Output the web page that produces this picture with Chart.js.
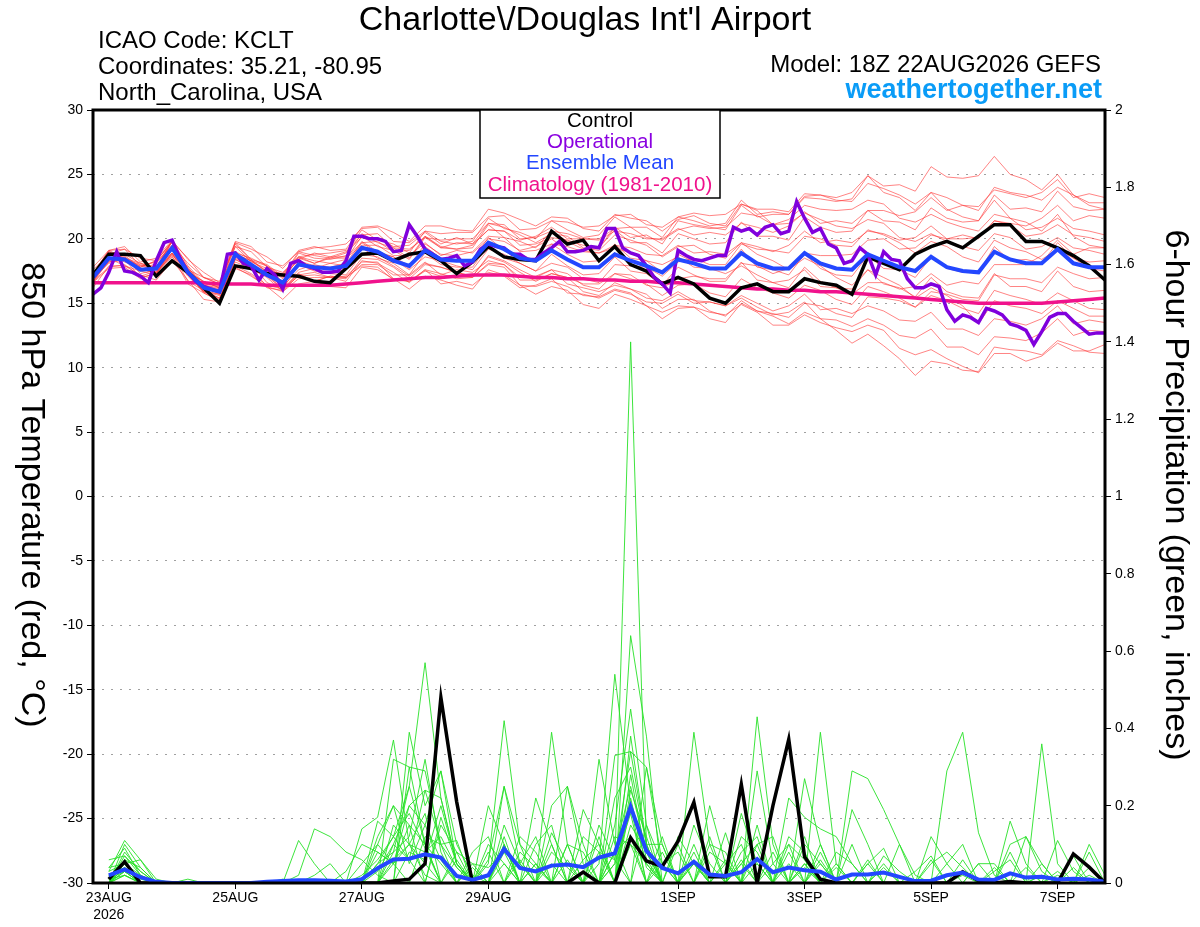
<!DOCTYPE html>
<html>
<head>
<meta charset="utf-8">
<title>KCLT GEFS plume</title>
<script src="https://cdn.jsdelivr.net/npm/chart.js@4.4.0/dist/chart.umd.min.js"></script>
<style>
  html, body { margin: 0; padding: 0; background: #fff; }
  #wrap { width: 1200px; height: 927px; }
</style>
</head>
<body>
<div id="wrap"><canvas id="plume" width="1200" height="927"></canvas></div>
<script>
// x axis: hours after 18Z 22AUG2026, date labels at 00Z
const dateTickHours = [6, 54, 102, 150, 222, 270, 318, 366];
const dateTickLabels = [["23AUG", "2026"], "25AUG", "27AUG", "29AUG", "1SEP", "3SEP", "5SEP", "7SEP"];

// 850 hPa temperature, 6-hourly from hour 0
const controlTemp = [17.2,18.8,18.8,18.7,17.1,18.3,17.4,16.2,
  15.0,17.9,17.7,17.3,17.2,17.1,16.7,16.6,
  17.7,18.8,18.9,18.3,18.8,19.0,18.3,17.3,
  18.2,19.4,18.6,18.4,18.3,20.6,19.6,19.9,
  18.3,19.4,18.0,17.5,16.5,17.0,16.5,15.4,
  15.0,16.2,16.5,15.9,15.9,16.9,16.6,16.4,
  15.7,18.6,18.1,17.6,18.8,19.4,19.8,19.3,
  20.2,21.1,21.1,19.8,19.8,19.3,18.7,17.9,
  16.8];
const meanTemp = [17.0,18.5,18.4,17.6,17.7,19.3,17.4,16.2,
  15.9,18.8,18.0,17.2,16.6,18.0,17.8,17.7,
  17.9,19.3,19.0,18.3,17.9,19.1,18.4,18.3,
  18.3,19.7,19.2,18.5,18.3,19.1,18.4,17.8,
  17.8,18.8,18.3,17.9,17.4,18.4,18.1,17.7,
  17.7,18.9,18.1,17.7,17.7,18.9,18.1,17.7,
  17.6,18.8,18.3,17.8,17.5,18.6,17.8,17.5,
  17.4,19.0,18.4,18.1,18.1,19.2,18.1,17.8,
  17.8];
const climoTemp = [16.6,16.6,16.6,16.6,16.6,16.6,16.6,16.6,
  16.5,16.5,16.5,16.4,16.4,16.4,16.4,16.4,
  16.5,16.6,16.7,16.8,16.9,17.0,17.0,17.1,
  17.2,17.2,17.2,17.1,17.0,17.0,16.9,16.9,
  16.8,16.8,16.7,16.7,16.6,16.6,16.5,16.4,
  16.3,16.2,16.1,16.1,16.0,16.0,15.9,15.9,
  15.8,15.7,15.6,15.5,15.4,15.3,15.2,15.1,
  15.0,15.0,15.0,15.0,15.0,15.1,15.2,15.3,
  15.4];
// operational run is 3-hourly
const operationalTemp = [15.7,16.2,17.4,19.0,17.5,17.4,17.1,16.6,18.3,19.7,
  19.9,18.5,17.4,16.7,16.3,16.1,15.9,18.8,18.9,18.1,
  17.9,16.8,17.7,17.2,16.1,18.1,18.3,17.9,17.7,17.4,
  17.4,17.5,18.3,20.2,20.2,20.0,20.0,19.8,19.0,19.1,
  21.1,20.2,19.2,18.8,18.4,18.5,18.7,17.9,18.2,19.2,
  19.6,19.4,19.3,18.8,18.8,18.4,18.4,18.9,19.3,19.8,
  19.0,19.0,19.1,19.4,19.3,20.8,20.8,19.3,18.9,18.7,
  17.9,17.0,16.5,15.8,19.1,18.7,18.4,18.3,18.5,18.7,
  18.7,20.9,20.6,20.8,20.3,20.9,21.1,20.4,20.6,22.9,
  21.6,20.5,20.8,19.6,19.3,18.1,18.3,19.3,18.8,17.2,
  19.0,18.4,18.3,16.9,16.2,16.2,16.5,16.3,14.5,13.6,
  14.1,13.9,13.5,14.6,14.4,14.1,13.4,13.2,12.9,11.8,
  12.8,13.9,14.2,14.2,13.6,13.1,12.6,12.7,12.7];
// ensemble members, 6-hourly
const memberTemps = [
  [17.3,19.1,18.5,18.1,17.8,19.9,17.9,16.6,16.4,19.7,18.4,18.0,17.1,19.0,18.7,18.5,18.9,20.7,19.9,19.6,18.9,20.6,19.8,19.6,19.8,21.6,20.8,20.5,20.0,21.4,20.7,20.1,20.3,21.7,20.9,20.9,20.1,21.7,21.4,21.0,21.2,23.0,21.9,22.1,21.9,23.2,23.1,22.9,23.1,24.9,24.1,24.2,23.7,25.6,24.8,24.7,24.9,26.4,25.0,24.6,23.8,25.0,23.4,22.6,22.3],
  [16.9,18.1,18.4,17.0,17.3,18.6,17.1,15.9,15.6,18.2,17.7,16.3,15.9,16.9,17.0,17.0,17.1,18.2,18.2,16.9,16.7,17.5,17.1,17.1,17.0,18.0,17.8,16.4,16.3,16.7,16.3,15.6,15.5,16.1,15.8,14.8,14.3,14.8,14.7,14.3,14.1,14.9,14.3,13.3,13.3,14.1,13.5,13.1,12.8,13.3,12.9,11.5,11.0,11.4,10.7,10.1,9.6,11.1,11.1,10.5,10.9,11.9,11.3,11.3,11.8],
  [17.3,19.1,19.2,18.5,18.3,19.8,18.5,17.0,16.5,19.7,19.2,18.6,17.7,19.1,19.4,19.1,19.2,20.9,21.0,20.5,19.8,21.0,21.0,20.7,20.6,22.3,22.0,21.5,21.0,21.7,21.6,20.8,20.6,21.9,21.6,21.4,20.6,21.5,21.8,21.2,21.0,22.7,22.3,22.3,22.1,23.5,23.4,23.0,22.9,24.3,23.9,23.4,22.7,23.6,23.2,22.6,22.2,24.0,23.6,23.4,23.0,24.0,23.4,22.8,22.8],
  [16.6,17.7,17.8,16.9,17.4,18.7,16.5,15.8,15.2,17.7,17.2,16.2,16.0,17.2,16.7,17.1,17.0,17.9,17.8,16.8,16.7,17.6,16.5,16.7,16.4,17.4,17.1,16.2,16.4,16.9,15.8,15.7,15.4,16.0,15.7,15.1,15.0,15.7,15.0,15.1,14.8,15.4,14.7,14.1,14.3,15.1,13.8,13.7,13.2,13.8,13.3,12.5,12.3,13.0,11.6,11.6,11.0,12.4,12.3,12.1,12.7,13.8,12.5,12.9,12.8],
  [17.2,19.0,18.4,18.0,17.7,19.8,17.7,16.4,16.2,19.4,18.2,17.7,16.7,18.6,18.3,18.1,18.4,20.2,19.4,19.1,18.4,20.1,19.3,19.2,19.3,21.1,20.1,19.8,19.3,20.6,19.8,19.2,19.3,20.7,19.7,19.7,18.9,20.4,20.0,19.6,19.7,21.3,20.2,20.2,19.9,21.7,20.9,20.5,20.6,22.2,21.4,21.3,20.7,22.4,21.6,21.3,21.4,23.4,22.3,22.4,22.1,23.7,22.5,22.2,22.3],
  [16.6,18.3,18.4,17.7,17.4,18.9,17.4,15.9,15.4,18.5,17.9,17.2,16.1,17.4,17.7,17.3,17.2,18.8,18.6,17.9,17.1,18.1,17.8,17.4,17.1,18.7,18.3,17.6,17.0,17.6,17.3,16.4,16.1,17.3,16.9,16.5,15.6,16.4,16.5,15.8,15.5,16.9,16.2,15.8,15.4,16.4,16.0,15.3,14.9,16.3,15.9,15.4,14.7,15.6,15.2,14.6,14.2,16.0,15.6,15.3,14.9,15.8,15.2,14.6,14.5],
  [17.6,18.8,19.2,17.9,18.2,19.5,18.1,17.0,16.7,19.4,19.0,17.8,17.4,18.6,18.8,18.9,19.1,20.3,20.4,19.3,19.2,20.1,19.9,20.0,20.0,21.2,21.1,20.0,20.1,20.6,20.4,20.0,20.0,20.8,20.9,20.1,19.9,20.7,21.0,20.8,20.9,22.0,21.8,21.1,21.5,22.6,22.3,22.2,22.3,23.0,22.7,21.6,21.3,21.9,21.3,20.9,20.6,21.9,21.6,20.7,20.9,21.6,20.8,20.6,20.3],
  [16.7,17.8,18.0,17.1,17.5,18.9,16.7,16.0,15.4,17.9,17.3,16.4,16.1,17.3,16.7,17.1,17.0,18.0,18.0,17.2,17.2,18.2,17.2,17.6,17.4,18.3,18.0,17.0,17.1,17.6,16.5,16.2,15.9,16.4,16.1,15.4,15.2,15.9,15.2,15.1,14.8,15.6,15.0,14.4,14.8,15.7,14.5,14.6,14.2,14.8,14.4,13.7,13.6,14.3,13.0,13.0,12.5,13.8,13.6,13.3,13.8,14.8,13.4,13.7,13.5],
  [17.1,19.0,18.4,17.9,17.7,19.8,17.7,16.5,16.3,19.6,18.3,17.9,16.9,18.9,18.5,18.4,18.7,20.4,19.7,19.3,18.5,20.2,19.4,19.2,19.5,20.7,20.6,19.5,19.6,20.1,19.9,19.5,19.3,20.9,20.1,20.3,19.6,21.4,21.1,20.9,20.7,22.6,21.7,21.9,21.9,23.3,23.4,23.2,23.6,24.9,23.6,23.2,22.2,23.6,22.3,21.7,21.4,23.0,21.6,21.3,20.6,21.9,20.2,19.5,19.3],
  [16.7,18.4,18.4,17.7,17.4,18.8,17.4,15.9,15.3,18.4,17.7,17.0,15.9,17.2,17.4,17.0,16.9,18.5,18.4,17.8,16.9,18.0,17.8,17.4,17.1,18.6,18.2,17.4,16.7,17.3,17.0,15.9,15.6,16.6,16.1,15.7,14.6,15.3,15.3,14.4,14.0,15.2,14.4,14.0,13.4,14.3,13.8,12.9,11.9,12.6,11.7,10.7,9.4,10.5,10.3,9.8,9.7,11.6,11.4,11.3,11.0,12.1,11.7,11.2,11.1],
  [17.4,18.5,18.7,17.8,18.3,19.7,17.4,16.7,16.2,18.8,18.3,17.4,17.3,18.5,18.1,18.5,18.5,19.5,19.5,18.7,18.7,19.7,18.7,19.1,18.9,20.0,19.8,19.1,19.4,20.0,19.1,19.1,18.9,19.5,19.3,18.8,18.7,19.5,18.9,19.0,18.8,19.7,19.4,19.0,19.5,20.6,19.7,19.9,19.7,20.6,20.4,19.9,20.1,21.0,20.0,20.3,20.0,21.4,21.2,21.0,21.6,22.6,21.4,21.8,21.6],
  [16.7,18.5,17.9,17.5,17.2,19.3,17.2,15.9,15.7,18.9,17.6,17.1,16.1,18.0,17.5,17.3,17.6,19.3,18.5,18.1,17.2,18.9,18.0,17.8,17.8,19.5,18.5,18.1,17.5,18.8,17.9,17.2,17.3,18.6,17.5,17.3,16.4,17.8,17.2,16.7,16.7,18.2,16.8,16.6,16.2,17.8,16.7,16.2,16.1,17.6,16.5,16.2,15.5,17.0,15.9,15.5,15.4,17.3,16.3,16.3,15.9,17.5,16.3,15.9,16.0],
  [17.8,19.1,19.4,18.2,18.5,19.9,18.4,17.4,16.6,19.8,19.4,18.2,17.9,19.0,19.3,19.4,19.6,20.8,20.9,19.8,19.7,20.6,20.4,20.5,20.5,21.7,21.8,20.7,20.8,21.4,21.3,20.9,21.0,21.8,21.9,21.1,20.9,21.7,22.0,21.8,21.9,22.7,22.2,21.1,21.2,22.0,21.5,21.0,20.8,21.5,21.2,20.1,19.8,20.4,19.8,19.4,19.1,20.4,20.1,19.2,19.4,20.1,19.3,19.1,18.8],
  [16.2,17.9,17.9,17.2,16.8,18.3,16.8,15.3,15.1,17.8,17.1,16.3,15.3,16.5,16.7,16.3,16.2,17.8,17.6,16.9,16.1,17.1,16.8,16.4,16.1,17.6,17.2,16.4,15.7,16.3,16.0,14.9,14.6,15.7,15.3,14.8,13.8,14.6,14.7,13.8,13.5,15.0,14.4,14.2,13.9,15.0,14.8,14.2,13.9,15.5,15.4,15.2,14.7,15.9,15.7,15.3,15.2,17.2,16.9,16.9,16.6,17.8,17.3,16.9,17.0],
  [17.1,18.2,18.5,17.6,18.1,19.5,17.4,16.7,16.2,18.8,18.3,17.5,17.3,18.6,18.1,18.6,18.6,19.7,19.8,19.0,19.1,20.2,19.3,19.7,19.6,20.7,20.6,19.9,20.2,20.9,20.0,20.0,19.9,20.6,20.4,20.0,20.0,20.8,20.3,20.5,20.3,21.2,20.9,20.5,21.0,22.1,21.2,21.4,21.2,22.2,22.2,21.8,22.1,23.2,22.2,22.6,22.5,23.8,23.5,23.2,23.6,24.6,23.2,23.5,23.2],
  [17.0,18.8,18.2,17.7,17.3,19.4,17.3,16.0,15.7,19.0,17.7,17.3,16.3,18.3,17.9,17.8,18.1,19.8,19.0,18.6,17.7,19.4,18.5,18.3,18.3,20.1,19.1,18.8,18.3,19.6,18.8,18.2,18.3,19.6,18.5,18.3,17.4,18.8,18.2,17.7,17.7,19.2,17.8,17.6,17.2,18.8,17.7,17.2,17.1,18.7,17.7,17.6,17.0,18.6,17.7,17.4,17.4,19.4,18.3,18.4,18.1,19.7,18.5,18.2,18.3],
  [17.0,18.2,18.6,17.3,17.6,18.9,17.5,16.4,16.1,18.6,18.1,16.6,16.1,17.1,17.2,17.0,16.7,18.3,18.1,17.4,16.6,17.6,17.3,16.9,17.0,18.1,18.0,16.8,16.8,17.3,17.0,16.5,16.5,17.3,17.2,16.4,16.2,16.9,17.1,16.9,16.9,18.1,17.9,17.3,17.7,18.9,18.7,18.7,18.8,19.9,20.0,19.2,19.3,20.3,20.0,20.0,20.1,21.4,21.1,20.2,20.4,21.1,20.3,20.1,19.8],
  [17.0,18.7,18.8,18.1,17.7,19.2,17.8,16.3,15.7,18.9,18.5,17.9,17.0,18.4,18.9,18.6,19.0,20.1,20.1,19.4,19.5,20.5,19.6,20.1,19.6,21.2,20.9,20.3,19.7,20.4,20.2,19.3,19.1,20.3,19.9,19.5,18.6,19.4,19.5,18.8,18.5,19.7,18.8,18.3,17.6,18.5,17.9,17.0,16.4,17.6,17.0,16.4,15.4,16.2,15.6,14.8,13.4,15.2,14.8,14.6,14.2,15.2,14.6,14.0,14.0],
  [17.2,18.4,18.6,17.8,18.3,19.8,17.6,17.0,16.5,19.0,18.4,17.4,17.2,18.3,17.7,18.1,17.9,19.7,18.9,18.6,17.9,19.6,18.8,18.7,19.0,20.2,20.1,19.0,19.1,19.6,19.4,19.0,18.9,19.3,18.9,18.3,18.0,18.6,17.8,17.7,17.3,17.9,17.2,16.6,16.8,17.6,16.3,16.2,15.7,16.6,16.6,16.1,16.3,17.3,16.4,16.7,16.5,18.0,18.0,18.0,18.7,19.9,18.8,19.3,19.3],
  [16.7,18.4,18.4,17.7,17.3,18.8,17.3,15.8,15.2,18.4,17.8,17.2,16.3,17.6,18.0,17.7,17.7,19.3,19.1,18.4,17.6,18.6,18.3,17.9,17.6,19.2,18.8,18.1,17.5,18.1,17.8,16.9,16.6,18.0,17.9,17.8,17.1,18.2,18.5,18.0,18.0,19.6,19.2,19.1,18.9,20.2,20.0,19.5,19.4,20.7,20.3,19.7,18.9,19.8,19.4,18.6,18.2,19.9,19.3,19.0,18.4,19.2,18.5,17.7,17.5]
];

// 6-hour precipitation (inches), 6-hourly from hour 6
const controlPrecip = [.01,.055,0,0,0,0,0,0, 0,0,0,0,0,0,0,0,
  0,0,.005,.01,.05,.48,.21,0, 0,0,0,0,0,0,.028,0,
  0,.117,.057,.043,.108,.209,.016,.016, .255,0,.2,.372,.068,.01,0,0,
  0,0,0,0,0,0,.029,.006, 0,.004,0,0,0,.075,.041,0];
const meanPrecip = [.02,.035,.015,.003,0,0,0,0, 0,0,.003,.005,.007,.007,.006,.004,
  .01,.038,.061,.063,.074,.066,.018,.008, .02,.088,.039,.03,.045,.048,.041,.066,
  .077,.197,.083,.039,.025,.055,.022,.018, .028,.062,.028,.04,.033,.029,.009,.022,
  .022,.027,.016,.005,.006,.02,.027,.009, .008,.025,.014,.016,.009,.011,.009,.003];
const memberPrecip = [
  [.03,.11,.06,.01,0,0,0,0, 0,0,0,0,0,0,0,0, 0,.05,.12,.25,.57,.22,.05,0, 0,.1,0,0,.05,0,0,0, .05,1.4,.1,.1,0,.05,0,0, .05,.1,0,0,0,.05,0,0, 0,0,0,0,0,0,.02,0, 0,0,0,0,0,0,0,0],
  [.06,.07,.02,0,0,0,0,0, 0,0,0,0,0,0,0,0, .14,.17,.37,.1,.02,0,0,0, .05,.42,.1,.05,0,0,0,.05, .54,.2,.05,0,0,0,0,0, 0,.43,.1,0,0,.39,.05,0, 0,0,0,0,0,0,0,0, 0,0,0,.36,.05,0,0,0],
  [0,.1,.04,0,0,0,0,0, 0,0,0,0,.02,.14,.12,.08, .06,.02,0,.39,.2,.29,.1,.02, 0,0,0,0,.39,.1,0,0, 0,.64,.38,0,0,.39,.1,0, 0,0,0,0,.27,.1,0,0, 0,0,0,0,0,.29,.39,.13, .02,0,0,0,0,0,0,0],
  [.04,.05,.06,0,0,0,0,0, 0,0,0,0,.11,.05,0,0, 0,0,.32,.3,.1,.05,0,0, 0,.25,.05,0,0,0,.19,.1, 0,.38,.1,0,0,0,0,0, .18,.05,0,0,0,0,0,.29, .27,.19,.1,0,0,0,0,0, 0,.16,.05,0,0,0,0,0],
  [0,.07,.03,0,0,0,0,0, 0,0,0,0,0,0,0,0, 0,.16,.12,.06,.24,.22,.05,0, 0,0,0,.22,.1,0,0,0, .33,.34,.3,.05,0,0,0,0, 0,0,0,.22,.17,.14,.12,.05, 0,0,0,0,.12,.05,0,0, 0,0,0,0,0,0,0,0],
  [.02,.05,.02,0,0,0,0,0, 0,0,0,0,0,0,0,0, 0,0,0,.3,.29,.1,.11,0, .2,.1,0,0,0,0,0,.32, .1,0,.3,.1,0,0,0,.13, 0,0,0,0,.05,0,0,0, .05,.09,0,0,0,0,0,0, 0,0,.12,.05,0,0,0,0],
  [0,.04,0,0,0,.01,0,0, 0,0,0,0,0,0,0,0, .05,.1,.2,.15,0,.17,.05,0, 0,0,.12,.08,0,.25,.05,0, 0,.2,0,0,.1,0,0,0, 0,.29,.05,0,0,0,0,.19, .1,0,0,0,0,0,0,.05, .05,0,0,0,0,0,.1,.02],
  [.01,.03,0,0,0,0,0,0, 0,0,0,0,0,0,0,.03, .1,.08,.05,.15,.1,0,0,.08, .12,0,0,.1,.15,0,0,0, .12,.1,0,.05,.08,0,.2,.05, 0,0,0,.08,0,0,.04,0, 0,0,.1,.02,0,0,0,0, 0,0,0,0,0,.07,0,0],
  [0,.08,.03,0,0,0,0,0, 0,0,0,0,0,0,0,0, 0,0,.1,.2,.15,.29,.05,0, 0,.15,.05,0,0,.1,.08,0, 0,.15,.08,0,0,.1,0,0, .05,0,0,0,.1,.05,0,0, 0,0,0,0,.05,.08,.04,0, 0,0,0,0,.11,.03,0,0],
  [.03,.05,0,0,0,0,0,0, 0,0,0,.01,0,0,0,0, 0,.05,.08,.25,.1,0,.08,.05, 0,0,0,0,.2,.25,.1,0, 0,.1,.05,0,0,.15,.05,0, 0,.1,.12,0,0,0,0,0, .05,0,0,0,0,0,0,0, 0,.1,.12,.03,0,0,0,0],
  [0,.02,0,0,0,0,0,0, 0,0,0,0,0,0,0,0, 0,.12,.2,.05,.15,.06,0,0, .06,.25,.1,0,0,0,0,.15, .06,.34,.1,0,0,0,0,.05, .1,0,0,0,.05,0,0,0, 0,.07,.03,0,0,0,0,0, .03,.06,0,0,0,0,0,0],
  [.02,.04,.01,0,0,0,0,0, 0,0,0,0,0,0,0,0, 0,0,.05,.1,.08,.12,.04,0, 0,.08,.05,.12,0,0,0,0, .22,.3,.1,0,0,0,.08,.05, 0,0,0,.12,.08,0,0,0, 0,0,0,0,0,0,.03,0, 0,0,0,.05,0,0,0,0],
  [0,.03,0,0,0,0,0,0, 0,0,0,0,0,0,0,0, .02,.06,.12,.18,.09,0,0,.04, 0,.05,0,0,.13,.05,0,.08, .06,0,.15,.05,0,0,0,0, .08,.12,0,0,0,.06,0,0, 0,0,0,.03,.07,0,0,0, 0,0,0,0,0,0,.04,0],
  [0,.06,.04,0,0,0,0,0, 0,0,0,0,0,0,0,0, 0,0,.08,.12,.32,.08,0,0, .1,.05,0,0,0,0,.06,.1, 0,.24,.12,0,0,.06,0,0, 0,0,.05,.1,.06,0,0,0, 0,0,0,0,0,0,0,.05, 0,0,0,0,0,.04,0,0],
  [.01,.02,0,0,0,0,0,0, 0,0,0,0,0,0,0,0, 0,.03,.1,.06,0,.15,.08,0, 0,0,.06,0,.08,.04,0,0, .15,.45,.15,0,.12,.05,0,0, 0,.15,0,0,0,0,.08,.05, 0,0,0,0,0,.05,.1,0, 0,0,0,.02,0,0,0,0],
  [0,.05,0,0,0,0,0,0, 0,0,0,0,0,0,0,0, 0,0,.15,.1,.05,0,.06,0, 0,.12,0,.05,0,.1,0,0, .08,.12,0,.08,0,0,.1,.08, 0,0,0,.05,0,.1,0,0, 0,.05,0,0,0,0,0,0, 0,.08,0,0,0,0,.02,0],
  [.04,.09,.02,0,0,0,0,0, 0,0,0,0,0,0,0,0, 0,.08,.05,0,.12,.1,.04,0, .08,0,0,.05,0,0,.12,.08, 0,.22,.04,0,0,.08,0,0, .12,.08,0,0,.12,0,0,0, .06,0,0,0,0,0,0,0, .04,0,0,0,.02,0,0,0],
  [0,.04,0,0,0,0,0,0, 0,0,0,0,0,0,0,0, 0,.1,.05,.2,.24,.1,0,0, 0,.1,0,0,.1,0,0,.12, 0,.28,.06,0,0,0,0,.06, 0,0,.08,0,.04,0,0,.1, 0,0,0,0,0,0,.06,0, 0,0,.04,0,0,0,0,0],
  [0,.02,0,0,0,0,0,0, 0,0,0,0,0,.02,.05,0, 0,0,0,.08,.06,.2,.05,0, 0,0,.08,.04,0,0,0,0, .05,.18,0,.12,0,0,.12,0, 0,.05,0,0,0,.08,0,0, 0,.04,0,0,0,0,0,0, 0,0,0,0,.03,0,.08,0],
  [0,.03,0,0,0,0,0,0, 0,0,0,0,0,0,0,0, 0,0,.06,.1,.18,0,0,.05, .04,.08,0,0,0,.06,0,0, .08,.25,.08,0,0,.05,0,0, .06,0,0,.1,0,0,.05,0, 0,0,0,0,.06,0,0,0, 0,0,0,.02,0,0,0,0]
];

const FONT = "'Liberation Sans', Arial, Helvetica, sans-serif";
Chart.defaults.font.family = FONT;
Chart.defaults.color = "#000";

const runHours6 = controlTemp.map((_, i) => i * 6);
const runHours3 = operationalTemp.map((_, i) => i * 3);
const precipHours = controlPrecip.map((_, i) => 6 + i * 6);

function pairs(xs, ys) {
  return ys.map((y, i) => ({ x: xs[i], y: y }));
}

function lineSet(data, color, width, order, axis) {
  return {
    data: data,
    borderColor: color,
    borderWidth: width,
    pointRadius: 0,
    tension: 0,
    fill: false,
    order: order,
    yAxisID: axis
  };
}

// lower order = drawn on top
const datasets = [
  lineSet(pairs(runHours6, meanTemp), "#2347ff", 4, 1, "yT"),
  lineSet(pairs(runHours3, operationalTemp), "#8000dc", 3.5, 2, "yT"),
  lineSet(pairs(runHours6, controlTemp), "#000000", 3.5, 3, "yT"),
  lineSet(pairs(runHours6, climoTemp), "#f0128c", 3.5, 4, "yT"),
  lineSet(pairs(precipHours, meanPrecip), "#2347ff", 4, 5, "yP"),
  lineSet(pairs(precipHours, controlPrecip), "#000000", 3.5, 6, "yP")
];
memberPrecip.forEach((m) => datasets.push(lineSet(pairs(precipHours, m), "rgba(40,225,40,0.9)", 1, 20, "yP")));
memberTemps.forEach((m) => datasets.push(lineSet(pairs(runHours6, m), "rgba(255,50,50,0.6)", 1, 21, "yT")));

// header, frame, legend box and rotated axis titles
const decorations = {
  id: "decorations",
  beforeDraw(chart) {
    const ctx = chart.ctx;
    ctx.save();
    ctx.fillStyle = "#ffffff";
    ctx.fillRect(0, 0, chart.width, chart.height);
    ctx.restore();
  },
  afterDraw(chart) {
    const ctx = chart.ctx;
    const a = chart.chartArea;
    ctx.save();

    ctx.strokeStyle = "#000";
    ctx.lineWidth = 3;
    ctx.strokeRect(a.left, a.top, a.right - a.left, a.bottom - a.top);

    // legend
    ctx.fillStyle = "#fff";
    ctx.fillRect(480, a.top, 240, 88);
    ctx.lineWidth = 1.5;
    ctx.strokeRect(480, a.top, 240, 88);
    ctx.textAlign = "center";
    ctx.textBaseline = "middle";
    ctx.font = "20.5px " + FONT;
    const legendRows = [
      ["Control", "#000000"],
      ["Operational", "#8a00e0"],
      ["Ensemble Mean", "#2347ff"],
      ["Climatology (1981-2010)", "#f0128c"]
    ];
    legendRows.forEach((row, i) => {
      ctx.fillStyle = row[1];
      ctx.fillText(row[0], 600, 121 + i * 21.3);
    });

    // header
    ctx.textBaseline = "alphabetic";
    ctx.fillStyle = "#000";
    ctx.textAlign = "center";
    ctx.font = "34px " + FONT;
    ctx.fillText("Charlotte\\/Douglas Int'l Airport", 585, 30);

    ctx.textAlign = "left";
    ctx.font = "24px " + FONT;
    ctx.fillText("ICAO Code: KCLT", 98, 48);
    ctx.fillText("Coordinates: 35.21, -80.95", 98, 74);
    ctx.fillText("North_Carolina, USA", 98, 100);

    ctx.textAlign = "right";
    ctx.fillText("Model: 18Z 22AUG2026 GEFS", 1101, 72);
    ctx.font = "bold 27px " + FONT;
    ctx.fillStyle = "#0a9cf7";
    ctx.fillText("weathertogether.net", 1102, 98);

    // axis titles, both turned clockwise
    ctx.fillStyle = "#000";
    ctx.font = "34px " + FONT;
    ctx.textAlign = "center";
    ctx.textBaseline = "middle";
    ctx.save();
    ctx.translate(31, 495);
    ctx.rotate(Math.PI / 2);
    ctx.fillText("850 hPa Temperature (red, \u00B0C)", 0, 0);
    ctx.restore();
    ctx.save();
    ctx.translate(1175, 495);
    ctx.rotate(Math.PI / 2);
    ctx.fillText("6-hour Precipitation (green, inches)", 0, 0);
    ctx.restore();

    ctx.restore();
  }
};

new Chart(document.getElementById("plume"), {
  type: "line",
  data: { datasets: datasets },
  options: {
    responsive: false,
    animation: false,
    events: [],
    layout: { padding: { top: 110, left: 0, right: 0, bottom: 0 } },
    plugins: { legend: { display: false }, tooltip: { enabled: false } },
    scales: {
      x: {
        type: "linear",
        position: "bottom",
        min: 0,
        max: 384,
        afterBuildTicks: (scale) => {
          scale.ticks = dateTickHours.map((v) => ({ value: v }));
        },
        afterFit: (scale) => { scale.height = 44; },
        ticks: {
          autoSkip: false,
          maxRotation: 0,
          padding: 1,
          font: { size: 14 },
          color: "#000",
          callback: (value) => {
            const k = dateTickHours.indexOf(value);
            return k >= 0 ? dateTickLabels[k] : "";
          }
        },
        grid: { drawOnChartArea: false, tickLength: 6, tickColor: "#000", color: "#000" },
        border: { display: false }
      },
      yT: {
        position: "left",
        min: -30,
        max: 30,
        afterFit: (scale) => { scale.width = 93; },
        ticks: { stepSize: 5, padding: 4, font: { size: 14 }, color: "#000" },
        grid: { color: "#a0a0a0", lineWidth: 1, tickLength: 6, tickColor: "#000", tickBorderDash: [] },
        border: { display: false, dash: [2, 7] }
      },
      yP: {
        position: "right",
        min: 0,
        max: 2,
        afterFit: (scale) => { scale.width = 95; },
        ticks: {
          stepSize: 0.2,
          padding: 4,
          font: { size: 14 },
          color: "#000",
          callback: (value) => String(Math.round(value * 10) / 10)
        },
        grid: { drawOnChartArea: false, tickLength: 6, tickColor: "#000", color: "#000" },
        border: { display: false }
      }
    }
  },
  plugins: [decorations]
});
</script>
</body>
</html>
